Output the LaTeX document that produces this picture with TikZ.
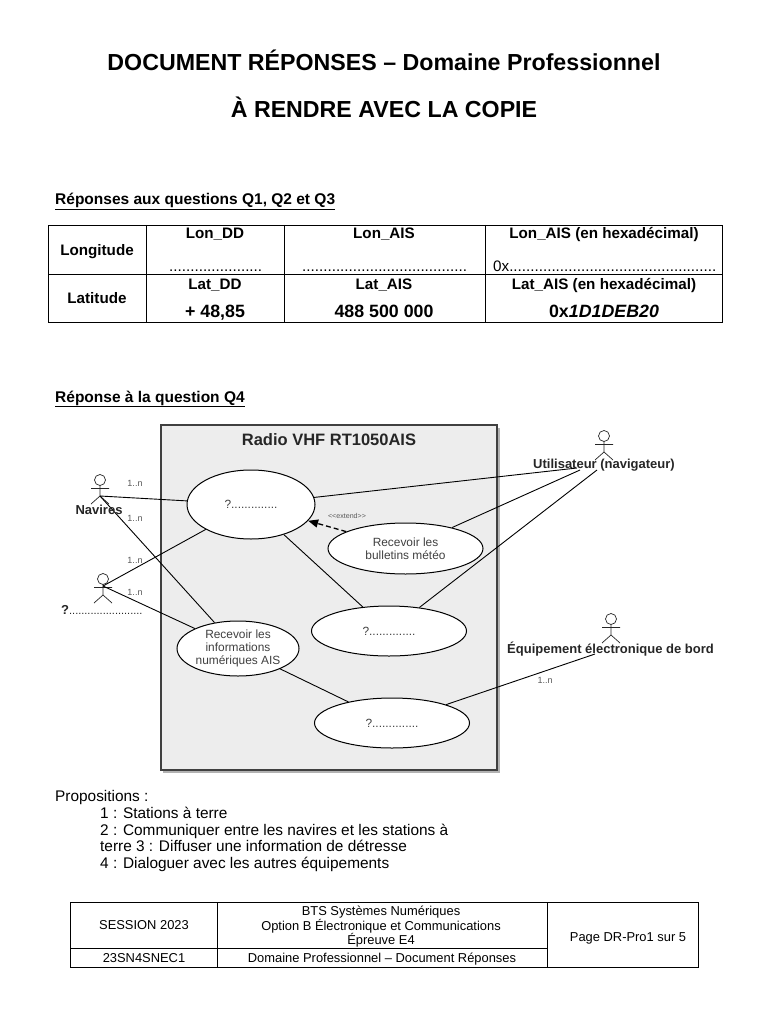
\documentclass[tikz,border=0pt]{standalone}
\usepackage{fontspec}
\setmainfont{Liberation Sans}
\usetikzlibrary{arrows.meta,shapes.geometric,shadows}
\newcommand{\fs}[1]{\fontsize{#1}{#1}\selectfont}
\tikzset{
  grid/.style={draw=black,line width=0.8pt},
  cell/.style={inner sep=0pt,anchor=base,font=\fs{15.2}\bfseries},
  val/.style={inner sep=0pt,anchor=base,font=\fs{17.8}\bfseries},
  dots/.style={inner sep=0pt,font=\fs{15.2},anchor=base west},
  foot/.style={inner sep=0pt,anchor=base,font=\fs{12.9}},
  head/.style={inner sep=0pt,anchor=base,font=\fs{23.2}\bfseries},
  lefttxt/.style={inner sep=0pt,anchor=base west,font=\fs{15.4}},
  sect/.style={inner sep=0pt,anchor=base west,font=\fs{15.5}\bfseries},
  usecase/.style={ellipse,draw=black,line width=1pt,fill=white,inner sep=0pt,align=center,text=black!75,font=\fs{11.9}},
  assoc/.style={draw=black,line width=0.9pt},
  mult/.style={inner sep=0pt,font=\fs{9},text=black!65},
  actorlabel/.style={inner sep=0pt,font=\fs{13}\bfseries,text=black!85},
  actor/.style={draw=black!85,line width=0.7pt},
}
\newcommand{\stick}[2]{%
  \draw[actor] (#1,#2) circle (5.5);
  \draw[actor] (#1,#2+5.5) -- (#1,#2+16) (#1-9,#2+8.5) -- (#1+9,#2+8.5)
     (#1-9,#2+24) -- (#1,#2+16) -- (#1+9,#2+24);}
\begin{document}
\begin{tikzpicture}[x=1pt,y=-1pt]
\useasboundingbox (0,0) rectangle (768,1024);
\fill[white] (0,0) rectangle (768,1024);
% titles
\node[head] (t1) at (384,71) {DOCUMENT RÉPONSES – Domaine Professionnel};
\node[head] (t2) at (384,118) {À RENDRE AVEC LA COPIE};
\node[sect] (s1) at (55,205) {\underline{Réponses aux questions Q1, Q2 et Q3}};
% table 1
\draw[grid] (48,225) rectangle (722,322);
\draw[grid] (48,274) -- (722,274) (146,225) -- (146,322) (284,225) -- (284,322) (485,225) -- (485,322);
\node[cell] (c1) at (97,255) {Longitude};
\node[cell] (c2) at (97,303) {Latitude};
\node[cell] (c3) at (215,239) {Lon\_DD};
\node[cell] (c4) at (384,239) {Lon\_AIS};
\node[cell] (c5) at (604,239) {Lon\_AIS (en hexadécimal)};
\node[cell] (c6) at (215,289) {Lat\_DD};
\node[cell] (c7) at (384,289) {Lat\_AIS};
\node[cell] (c8) at (604,289) {Lat\_AIS (en hexadécimal)};
\node[val] (c9) at (215,317) {+ 48,85};
\node[val] (c10) at (384,317) {488 500 000};
\node[val] (c11) at (604,317) {0x\textit{1D1DEB20}};
\node[dots] (d1) at (169,271) {......................};
\node[dots] (d2) at (302,271) {.......................................};
\node[dots] (d3) at (493,271) {0x.................................................};
\node[sect] (s2) at (55,402) {\underline{Réponse à la question Q4}};
% system box
\fill[black!30] (163,428) rectangle (500,773);
\draw[fill=black!7,draw=black!75,line width=1.4pt] (161,425) rectangle (497,770);
\node[inner sep=0pt,font=\fs{16.5}\bfseries,text=black!85] (sys) at (329,440) {Radio VHF RT1050AIS};
% use cases
\node[usecase,minimum width=128,minimum height=69] (e1) at (251,504.5) {?..............};
\node[usecase,minimum width=155,minimum height=51] (e2) at (405.5,548.5) {Recevoir les\\[1pt]bulletins météo};
\node[usecase,minimum width=155,minimum height=50] (e3) at (389,631) {?..............};
\node[usecase,minimum width=155,minimum height=50] (e4) at (392,723) {?..............};
\node[usecase,minimum width=122,minimum height=55] (e5) at (238,648.5) {Recevoir les\\[1pt]informations\\[1pt]numériques AIS};
% actors
\stick{100}{480}
\stick{103}{579}
\stick{604}{436}
\stick{611}{619}
\coordinate (nav) at (100,496);
\coordinate (sta) at (103,586);
\coordinate (uA) at (577,468);
\coordinate (uB) at (580,470);
\coordinate (uC) at (597,470);
\coordinate (eq) at (595,654);
% associations
\draw[assoc] (nav) -- (e1);
\draw[assoc] (nav) -- (e5);
\draw[assoc] (sta) -- (e1);
\draw[assoc] (sta) -- (e5);
\draw[assoc] (e1) -- (e3);
\draw[assoc] (e5) -- (e4);
\draw[assoc] (e1) -- (uA);
\draw[assoc] (e2) -- (uB);
\draw[assoc] (e3) -- (uC);
\draw[assoc] (e4) -- (eq);
\draw[assoc,line width=1.3pt,dash pattern=on 5pt off 3pt,-{Triangle[length=10pt,width=8pt]}] (e2) -- (e1);
% labels
\node[actorlabel] (lnav) at (99,510) {Navires};
\node[actorlabel,anchor=west] (lsta) at (61,610) {?\fs{11}\mdseries ........................};
\node[actorlabel] (lut) at (604,465.5) {Utilisateur (navigateur)};
\node[actorlabel] (leq) at (610.5,649.5) {Équipement électronique de bord};
\node[mult] (m1) at (135,483) {1..n};
\node[mult] (m2) at (135,518) {1..n};
\node[mult] (m3) at (135,560) {1..n};
\node[mult] (m4) at (135,592) {1..n};
\node[mult] (m5) at (545,680) {1..n};
\node[mult,font=\fs{7.1}] (ext) at (347,516) {{<}{<}extend{>}{>}};
% propositions
\node[lefttxt] (p0) at (55,801) {Propositions :};
\node[lefttxt] (p1) at (100,818) {1 : Stations à terre};
\node[lefttxt] (p2) at (100,835) {2 : Communiquer entre les navires et les stations à};
\node[lefttxt] (p3) at (100,851) {terre 3 : Diffuser une information de détresse};
\node[lefttxt] (p4) at (100,868) {4 : Dialoguer avec les autres équipements};
% footer
\draw[grid] (70,902) rectangle (698,967);
\draw[grid] (70,948) -- (547,948) (217,902) -- (217,967) (547,902) -- (547,967);
\node[foot] (f1) at (144,929) {SESSION 2023};
\node[foot] (f2a) at (381,915) {BTS Systèmes Numériques};
\node[foot] (f2b) at (381,930) {Option B Électronique et Communications};
\node[foot] (f2c) at (381,944) {Épreuve E4};
\node[foot] (f3) at (628,941) {Page DR-Pro1 sur 5};
\node[foot] (f4) at (144,962) {23SN4SNEC1};
\node[foot] (f5) at (382,962) {Domaine Professionnel – Document Réponses};
\end{tikzpicture}
\end{document}
